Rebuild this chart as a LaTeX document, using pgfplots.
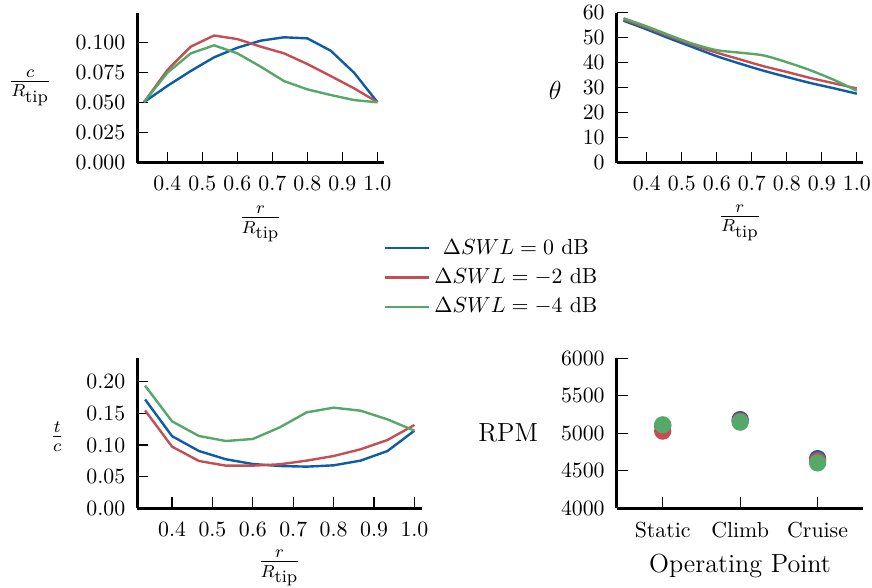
\documentclass[border=0pt]{standalone}
\usepackage{pgfplots}
\pgfplotsset{compat=1.18}
\definecolor{cblue}{HTML}{0C5DA5}
\definecolor{cred}{HTML}{C44E52}
\definecolor{cgreen}{HTML}{55A868}
\def\u{0.4587pt}
\newcommand{\Rtip}{R_{\textrm{\footnotesize tip}}}
\pgfplotsset{
  panel/.style={
    scale only axis, height=150*\u,
    axis lines=left, axis line style={-, line width=1.2pt},
    tick align=inside, major tick length=5pt,
    tick style={black, line width=0.6pt},
    yticklabel style={xshift=-2pt}, xticklabel style={yshift=-3pt},
    /pgf/number format/set thousands separator={},
    label style={font=\large},
    every axis plot/.append style={line width=1.1pt},
  },
  rpanel/.style={panel, xmin=0.314, xmax=1.018,
    xtick={0.4,0.5,...,1.0},
    xticklabel style={/pgf/number format/fixed, /pgf/number format/precision=1, /pgf/number format/fixed zerofill},
    xlabel={$\frac{r}{\Rtip}$},
  },
}
\begin{document}
\begin{tikzpicture}
\useasboundingbox (0,0) rectangle (872*\u,-588*\u);

% c / R_tip
\begin{axis}[rpanel, at={(137.3*\u,-162.7*\u)}, anchor=south west, width=246.4*\u,
  ymin=0, ymax=0.125, ytick={0,0.025,...,0.1},
  yticklabel style={/pgf/number format/fixed, /pgf/number format/precision=3, /pgf/number format/fixed zerofill},
  ylabel={$\frac{c}{\Rtip}$},
  ylabel style={rotate=-90, at={(axis description cs:-0.435,0.5)}, anchor=center},
  xlabel style={at={(axis description cs:0.5,-0.41)}, anchor=center},
  legend style={at={(axis description cs:1.4436,-0.765)}, anchor=center, draw=none, fill=none, row sep=1pt, font=\normalsize},
  legend cell align=center,
  legend image code/.code={\draw[#1] (0cm,0cm) -- (0.7cm,0cm);}]
\addplot[cblue] coordinates {(0.3333,0.0505) (0.4,0.064) (0.4667,0.0764) (0.5333,0.0878) (0.6,0.0958) (0.6667,0.1017) (0.7333,0.1045) (0.8,0.1036) (0.8667,0.0933) (0.9333,0.075) (1.0,0.0505)};
\addlegendentry{$\Delta SWL = 0$ dB}
\addplot[cred] coordinates {(0.3333,0.0505) (0.4,0.0772) (0.4667,0.0967) (0.5333,0.106) (0.6,0.103) (0.6667,0.0967) (0.7333,0.0911) (0.8,0.0822) (0.8667,0.0722) (0.9333,0.062) (1.0,0.0505)};
\addlegendentry{$\Delta SWL = -2$ dB}
\addplot[cgreen] coordinates {(0.3333,0.0505) (0.4,0.075) (0.4667,0.0911) (0.5333,0.0978) (0.6,0.0911) (0.6667,0.08) (0.7333,0.068) (0.8,0.0611) (0.8667,0.0564) (0.9333,0.0522) (1.0,0.0503)};
\addlegendentry{$\Delta SWL = -4$ dB}
\end{axis}

% theta
\begin{axis}[rpanel, at={(616.7*\u,-162.7*\u)}, anchor=south west, width=246.4*\u,
  ymin=0, ymax=60, ytick={0,10,...,60},
  ylabel={$\theta$},
  ylabel style={rotate=-90, at={(axis description cs:-0.25,0.485)}, anchor=center},
  xlabel style={at={(axis description cs:0.5,-0.40)}, anchor=center}]
\addplot[cblue, smooth] coordinates {(0.3333,56.8) (0.4,53.3) (0.4667,49.6) (0.5333,46.1) (0.6,42.6) (0.6667,39.6) (0.7333,36.8) (0.8,34.3) (0.8667,31.9) (0.9333,29.8) (1.0,27.6)};
\addplot[cred, smooth] coordinates {(0.3333,57.3) (0.4,54.0) (0.4667,50.4) (0.5333,47.0) (0.6,44.0) (0.6667,41.3) (0.7333,38.6) (0.8,36.3) (0.8667,33.9) (0.9333,31.8) (1.0,29.7)};
\addplot[cgreen, smooth] coordinates {(0.3333,57.8) (0.4,54.5) (0.4667,50.9) (0.5333,47.5) (0.6,45.0) (0.6667,44.0) (0.7333,42.9) (0.8,40.2) (0.8667,37.0) (0.9333,33.2) (1.0,28.8)};
\end{axis}

% t / c
\begin{axis}[rpanel, at={(137.3*\u,-508.3*\u)}, anchor=south west, width=284.4*\u,
  ymin=0, ymax=0.237, ytick={0,0.05,...,0.2},
  yticklabel style={/pgf/number format/fixed, /pgf/number format/precision=2, /pgf/number format/fixed zerofill},
  ylabel={$\frac{t}{c}$},
  ylabel style={rotate=-90, at={(axis description cs:-0.282,0.477)}, anchor=center},
  xlabel style={at={(axis description cs:0.5,-0.40)}, anchor=center}]
\addplot[cblue] coordinates {(0.3333,0.172) (0.4,0.114) (0.4667,0.0905) (0.5333,0.0774) (0.6,0.070) (0.6667,0.0668) (0.7333,0.0658) (0.8,0.0679) (0.8667,0.0753) (0.9333,0.0905) (1.0,0.1226)};
\addplot[cred] coordinates {(0.3333,0.1547) (0.4,0.0974) (0.4667,0.0747) (0.5333,0.0674) (0.6,0.0674) (0.6667,0.0695) (0.7333,0.0753) (0.8,0.0826) (0.8667,0.0932) (0.9333,0.1079) (1.0,0.1316)};
\addplot[cgreen] coordinates {(0.3333,0.1937) (0.4,0.1374) (0.4667,0.1142) (0.5333,0.1063) (0.6,0.1095) (0.6667,0.1279) (0.7333,0.1516) (0.8,0.159) (0.8667,0.1542) (0.9333,0.1405) (1.0,0.1226)};
\end{axis}

% RPM
\begin{axis}[panel, at={(616.7*\u,-508.3*\u)}, anchor=south west, width=246.6*\u,
  xmin=-0.594, xmax=2.59, xtick={0,1,2}, xticklabels={Static,Climb,Cruise},
  ymin=4000, ymax=6000, ytick={4000,4500,...,6000},
  ylabel={RPM}, xlabel={Operating Point},
  ylabel style={rotate=-90, at={(axis description cs:-0.44,0.5)}, anchor=center},
  xlabel style={at={(axis description cs:0.5,-0.385)}, anchor=center}]
\addplot[cblue, only marks, mark=*, mark size=3.4pt] coordinates {(0,5100) (1,5183) (2,4662)};
\addplot[cred, only marks, mark=*, mark size=3.4pt] coordinates {(0,5029) (1,5165) (2,4636)};
\addplot[cgreen, only marks, mark=*, mark size=3.4pt] coordinates {(0,5113) (1,5148) (2,4605)};
\end{axis}
\end{tikzpicture}
\end{document}
